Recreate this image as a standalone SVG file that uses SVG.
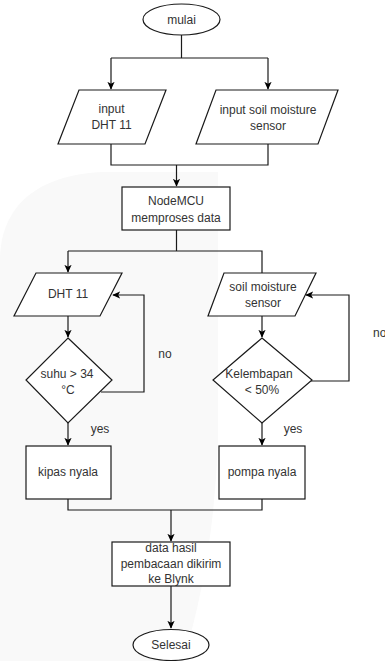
<svg xmlns="http://www.w3.org/2000/svg" width="385" height="661" viewBox="0 0 385 661">
<defs>
<marker id="arr" viewBox="0 0 10 10" refX="9" refY="5" markerWidth="8" markerHeight="8" markerUnits="userSpaceOnUse" orient="auto">
<path d="M0,0.5 L10,5 L0,9.5 L2.5,5 Z" fill="#000"/>
</marker>
<style>
.s{fill:#fff;stroke:#1a1a1a;stroke-width:1.2}
.c{fill:none;stroke:#1a1a1a;stroke-width:1.2}
.t{font-family:"Liberation Sans",Arial,sans-serif;font-size:12px;fill:#333;text-anchor:middle}
</style>
</defs>
<rect width="385" height="661" fill="#fff"/>
<path d="M0,260 C0,205 40,172 110,172 L218,172 L218,440 Q214,560 183,661 L0,661 Z" fill="#f9f9f9"/>

<g id="connectors">
<path class="c" d="M181.5,35 V58 M111,58 H268 M111,58 V89" marker-end="url(#arr)"/>
<path class="c" d="M268,58 V89" marker-end="url(#arr)"/>
<path class="c" d="M111,144 V165 H268 V144"/>
<path class="c" d="M176.5,165 V186" marker-end="url(#arr)"/>
<path class="c" d="M176.5,230 V251 M68,251 H262 V273 M68,251 V272" marker-end="url(#arr)"/>
<path class="c" d="M68,316 V337" marker-end="url(#arr)"/>
<path class="c" d="M262,316 V337" marker-end="url(#arr)"/>
<path class="c" d="M101,392 H144 V295 H113" marker-end="url(#arr)"/>
<path class="c" d="M311,381 H349 V295 H306" marker-end="url(#arr)"/>
<path class="c" d="M68,423 V445" marker-end="url(#arr)"/>
<path class="c" d="M262,423 V445" marker-end="url(#arr)"/>
<path class="c" d="M68,499 V510 H262 V499"/>
<path class="c" d="M171,510 V541" marker-end="url(#arr)"/>
<path class="c" d="M171,586 V628" marker-end="url(#arr)"/>
<text class="t" x="165" y="358">no</text>
<text class="t" x="373" y="337" style="text-anchor:start">no</text>
<text class="t" x="100" y="433">yes</text>
<text class="t" x="293" y="433">yes</text>
</g>

<g id="mulai">
<ellipse class="s" cx="181.5" cy="19.5" rx="38.5" ry="15.5"/>
<text class="t" x="181.5" y="24">mulai</text>
</g>
<g id="input-dht">
<path class="s" d="M79,90 H166 L145,144 H58 Z"/>
<text class="t" x="111.5" y="113">input</text>
<text class="t" x="111.5" y="129">DHT 11</text>
</g>
<g id="input-soil">
<path class="s" d="M216,90 H338 L318,144 H196 Z"/>
<text class="t" x="268" y="114">input soil moisture</text>
<text class="t" x="268" y="130">sensor</text>
</g>
<g id="nodemcu">
<rect class="s" x="122" y="187" width="108" height="43"/>
<text class="t" x="176" y="205">NodeMCU</text>
<text class="t" x="176" y="222">memproses data</text>
</g>
<g id="dht11">
<path class="s" d="M36,273 H122 L100,316 H14 Z"/>
<text class="t" x="68" y="298">DHT 11</text>
</g>
<g id="soil">
<path class="s" d="M224,273 H316 L295,316 H208 Z"/>
<text class="t" x="263" y="291">soil moisture</text>
<text class="t" x="263" y="307">sensor</text>
</g>
<g id="cek-suhu">
<path class="s" d="M68,338 L112,380 L68,423 L26,380 Z"/>
<text class="t" x="67" y="378">suhu &gt; 34</text>
<text class="t" x="68" y="394">°C</text>
</g>
<g id="cek-lembab">
<path class="s" d="M262,338 L312,380 L262,423 L213,380 Z"/>
<text class="t" x="259" y="378">Kelembapan</text>
<text class="t" x="262" y="394">&lt; 50%</text>
</g>
<g id="kipas">
<rect class="s" x="26" y="446" width="85" height="53"/>
<text class="t" x="68" y="476">kipas nyala</text>
</g>
<g id="pompa">
<rect class="s" x="219" y="446" width="86" height="53"/>
<text class="t" x="262" y="476">pompa nyala</text>
</g>
<g id="kirim">
<rect class="s" x="112" y="542" width="118" height="44"/>
<text class="t" x="171" y="552">data hasil</text>
<text class="t" x="171" y="568">pembacaan dikirim</text>
<text class="t" x="171" y="583">ke Blynk</text>
</g>
<g id="selesai">
<ellipse class="s" cx="171" cy="645" rx="38" ry="15.5"/>
<text class="t" x="171" y="649">Selesai</text>
</g>
</svg>
